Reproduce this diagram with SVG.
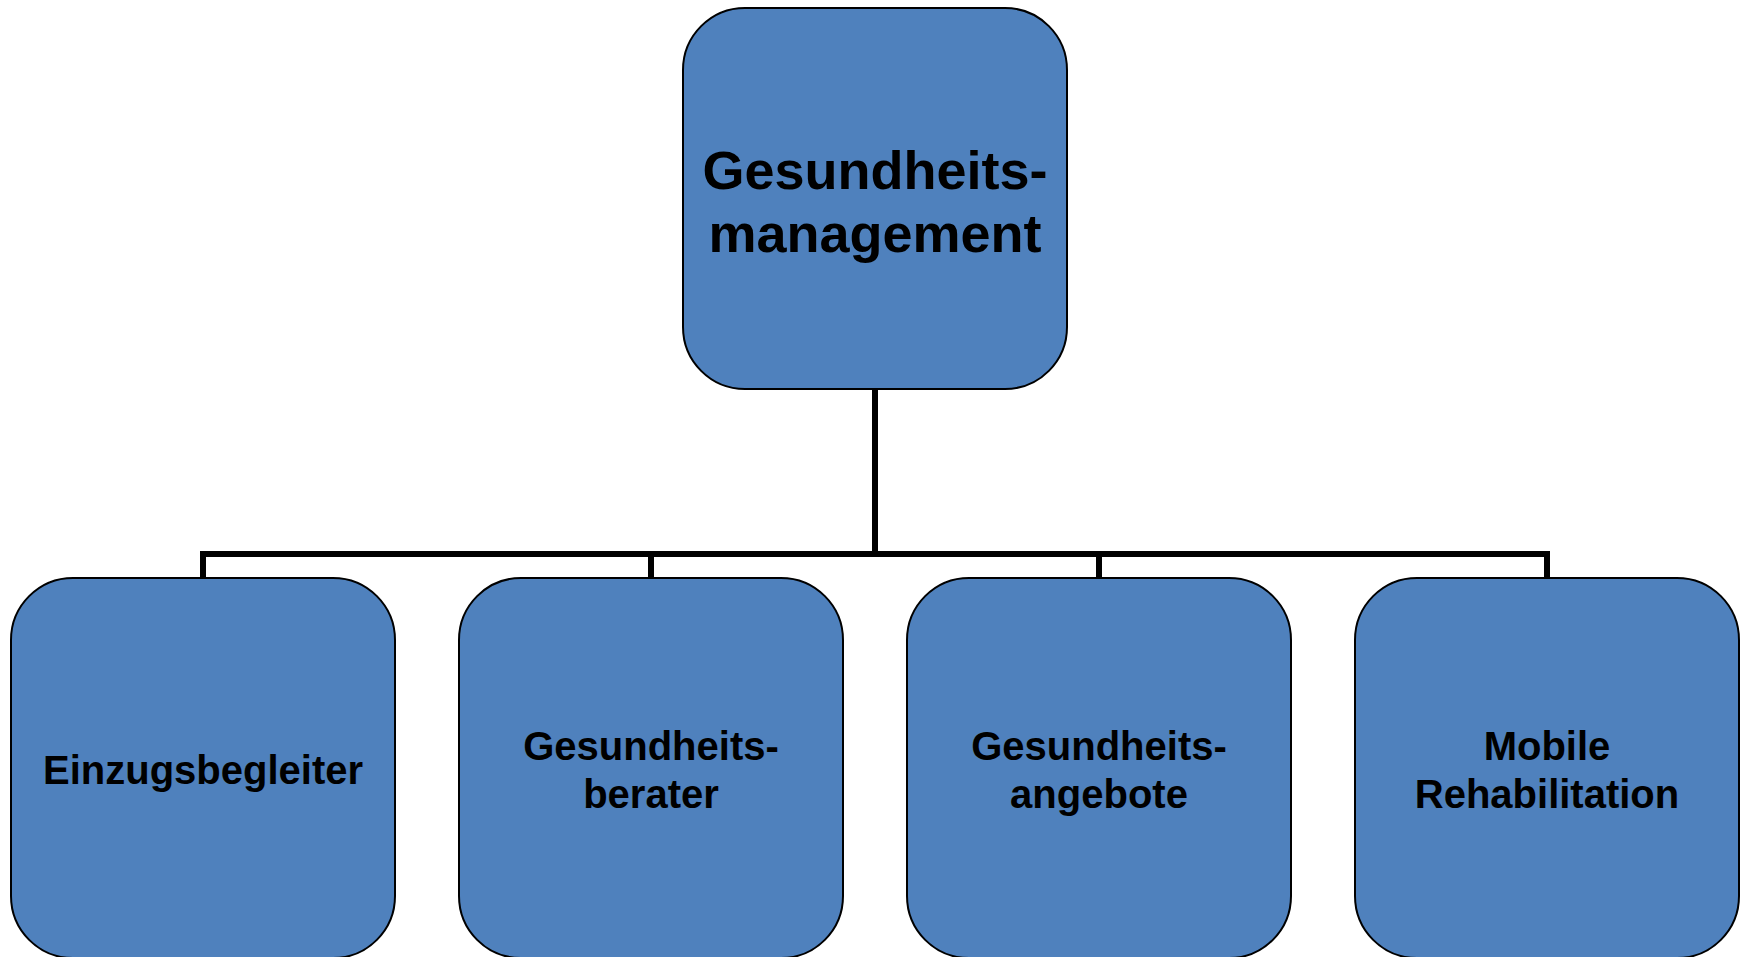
<svg xmlns="http://www.w3.org/2000/svg" width="1747" height="957" viewBox="0 0 1747 957">
  <style>
    .box { fill: #4F81BD; stroke: #000000; stroke-width: 2; }
    .lbl { font-family: "Liberation Sans", Arial, sans-serif; font-weight: bold; fill: #000000; text-anchor: middle; }
    .big { font-size: 54px; }
    .small { font-size: 40px; }
    .conn { fill: none; stroke: #000000; stroke-width: 6; }
  </style>
  <rect width="1747" height="957" fill="#FFFFFF"/>
  <g id="connectors">
    <path class="conn" d="M875 389 V554"/>
    <path class="conn" d="M203 578 V554 H1547 V578"/>
    <path class="conn" d="M651 554 V578"/>
    <path class="conn" d="M1099 554 V578"/>
  </g>
  <g id="node-gesundheitsmanagement">
    <rect class="box" x="683" y="8" width="384" height="381" rx="62" ry="62"/>
    <text class="lbl big" x="875" y="189">Gesundheits-</text>
    <text class="lbl big" x="875" y="252">management</text>
  </g>
  <g id="node-einzugsbegleiter">
    <rect class="box" x="11" y="578" width="384" height="380" rx="62" ry="62"/>
    <text class="lbl small" x="203" y="784">Einzugsbegleiter</text>
  </g>
  <g id="node-gesundheitsberater">
    <rect class="box" x="459" y="578" width="384" height="380" rx="62" ry="62"/>
    <text class="lbl small" x="651" y="760">Gesundheits-</text>
    <text class="lbl small" x="651" y="808">berater</text>
  </g>
  <g id="node-gesundheitsangebote">
    <rect class="box" x="907" y="578" width="384" height="380" rx="62" ry="62"/>
    <text class="lbl small" x="1099" y="760">Gesundheits-</text>
    <text class="lbl small" x="1099" y="808">angebote</text>
  </g>
  <g id="node-mobile-rehabilitation">
    <rect class="box" x="1355" y="578" width="384" height="380" rx="62" ry="62"/>
    <text class="lbl small" x="1547" y="760">Mobile</text>
    <text class="lbl small" x="1547" y="808">Rehabilitation</text>
  </g>
</svg>
